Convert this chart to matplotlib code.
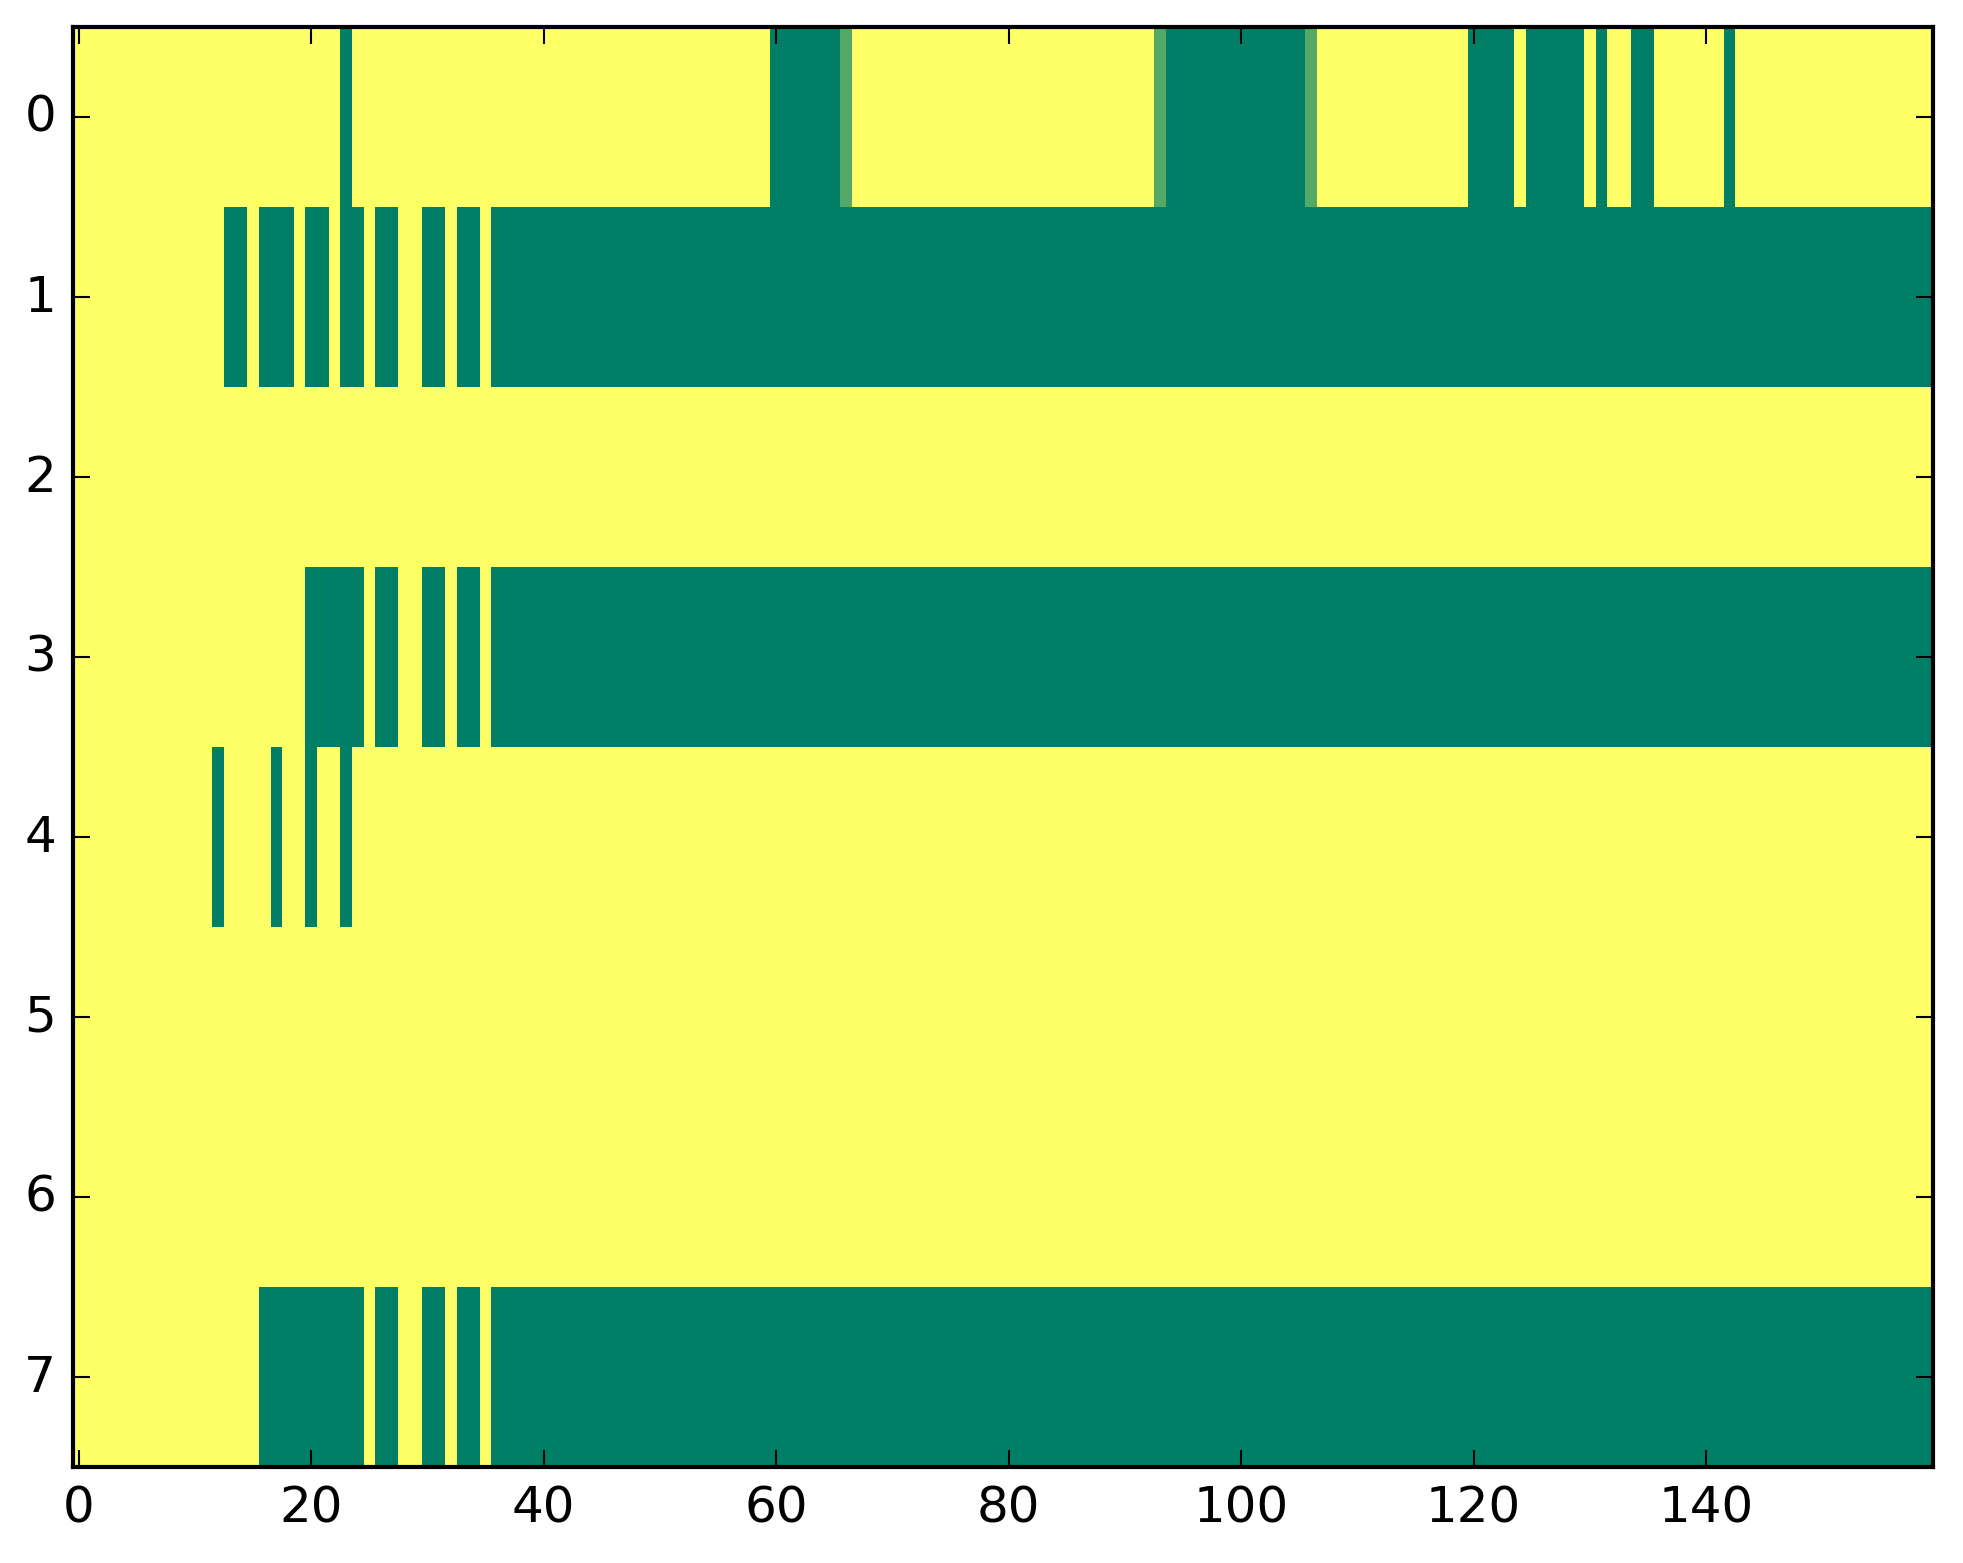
import numpy as np
import matplotlib
matplotlib.use("Agg")
import matplotlib.pyplot as plt

plt.style.use("classic")

# one string per row, 160 cells: 1 = yellow, 0 = green, 3 = one third
row0 = ("1111111111 1111111111 1110111111 1111111111 "
        "1111111111 1111111111 0000003111 1111111111 "
        "1111111111 1113000000 0000003111 1111111111 "
        "0000100000 1011001111 1101111111 1111111111")
row1 = ("1111111111 1110010001 0010010011 0010010000 "
        "0000000000 0000000000 0000000000 0000000000 "
        "0000000000 0000000000 0000000000 0000000000 "
        "0000000000 0000000000 0000000000 0000000000")
row2 = ("1111111111 1111111111 1111111111 1111111111 "
        "1111111111 1111111111 1111111111 1111111111 "
        "1111111111 1111111111 1111111111 1111111111 "
        "1111111111 1111111111 1111111111 1111111111")
row3 = ("1111111111 1111111111 0000010011 0010010000 "
        "0000000000 0000000000 0000000000 0000000000 "
        "0000000000 0000000000 0000000000 0000000000 "
        "0000000000 0000000000 0000000000 0000000000")
row4 = ("1111111111 1101111011 0110111111 1111111111 "
        "1111111111 1111111111 1111111111 1111111111 "
        "1111111111 1111111111 1111111111 1111111111 "
        "1111111111 1111111111 1111111111 1111111111")
row5 = row2
row6 = row2
row7 = ("1111111111 1111110000 0000010011 0010010000 "
        "0000000000 0000000000 0000000000 0000000000 "
        "0000000000 0000000000 0000000000 0000000000 "
        "0000000000 0000000000 0000000000 0000000000")

rows = [row0, row1, row2, row3, row4, row5, row6, row7]
cell_value = {"0": 0.0, "1": 1.0, "3": 0.33}

x_ticks = [0, 20, 40, 60, 80, 100, 120, 140]
y_ticks = [0, 1, 2, 3, 4, 5, 6, 7]


def parse_row(text):
    return [cell_value[c] for c in text.replace(" ", "")]


data = np.array([parse_row(r) for r in rows])

fig = plt.figure(figsize=(1963 / 300, 1564 / 300), dpi=300, facecolor="white")
ax = fig.add_axes([72.8 / 1963, 96 / 1564, 1860 / 1963, 1440 / 1564])

ax.imshow(data, cmap="summer", aspect="auto", interpolation="nearest",
          vmin=0, vmax=1)
ax.set_xticks(x_ticks)
ax.set_yticks(y_ticks)
ax.set_xlim(-0.5, data.shape[1] - 0.5)
ax.set_ylim(data.shape[0] - 0.5, -0.5)
ax.tick_params(labelsize=12)

fig.savefig("out.png", dpi=300, facecolor="white")
